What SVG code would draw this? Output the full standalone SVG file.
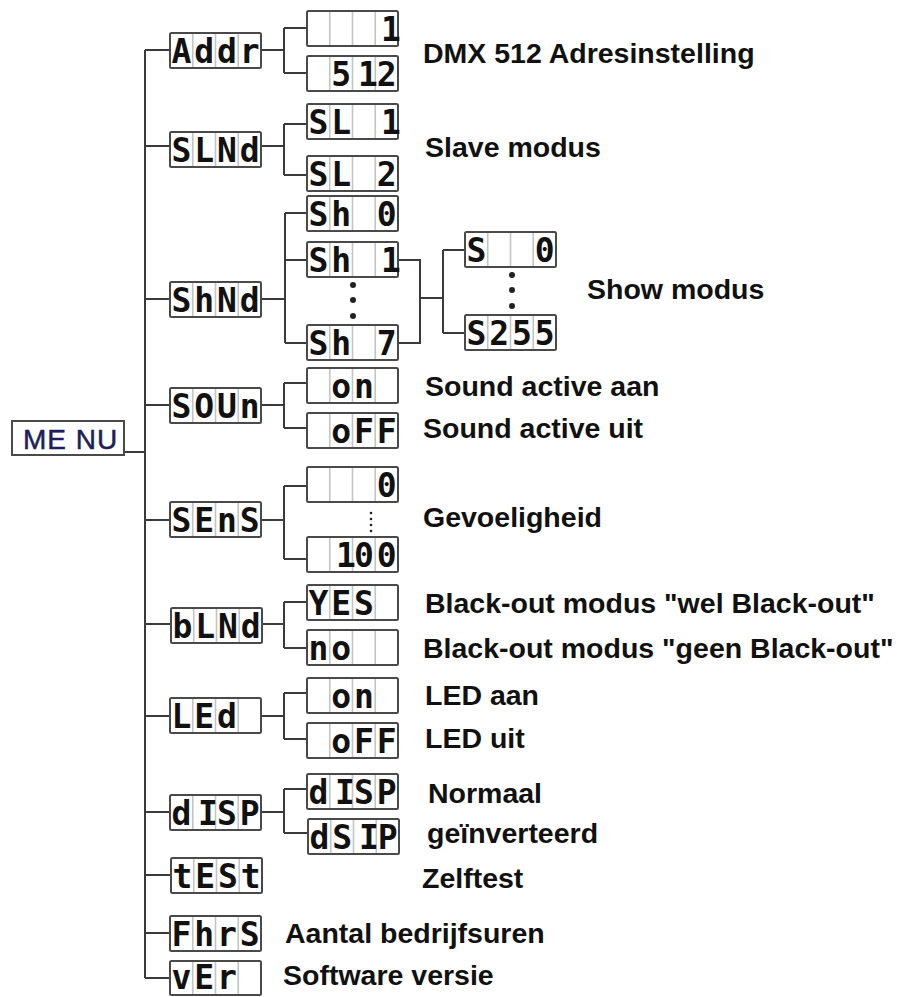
<svg xmlns="http://www.w3.org/2000/svg" xmlns:xlink="http://www.w3.org/1999/xlink" width="911" height="997" viewBox="0 0 911 997">
<style>
.box{fill:#fff;stroke:#4a4a4a;stroke-width:2}
.div{stroke:#c4c4c4;stroke-width:1.6;fill:none}
.seg{font-family:"DejaVu Sans Mono",monospace;font-weight:bold;font-size:33px;fill:#111;text-anchor:middle}
.lbl{font-family:"Liberation Sans",Arial,sans-serif;font-weight:bold;font-size:28.5px;fill:#111}
.con{fill:none;stroke:#3a3a3a;stroke-width:2}
.dot{fill:#222}
</style>
<defs>
<g id="cells">
<rect class="box" x="0" y="0" width="91" height="35" rx="1.5"/>
<path class="div" d="M22.75,1V34M45.5,1V34M68.25,1V34"/>
</g>
<g id="cells-s">
<rect class="box" x="0" y="0" width="91" height="34" rx="1.5"/>
<path class="div" d="M22.75,1V33M45.5,1V33M68.25,1V33"/>
</g>
</defs>
<rect width="911" height="997" fill="#fff"/>

<g id="connectors">
<path class="con" d="M124,452H145M145,50V978M145,50H170M145,146H170M145,299H170M145,405H170M145,520H170M145,624H171M145,716H170M145,812H170M145,875H171M145,933H170M145,978H170"/>
<path class="con" d="M261,50H284M284,28V73M284,28H307M284,73H307"/>
<path class="con" d="M261,146H284M284,124V175M284,124H307M284,175H307"/>
<path class="con" d="M261,299H285M285,213V343M285,213H307M285,260H307M285,343H307"/>
<path class="con" d="M398,260H420V343H398M420,298H443M443,250V333M443,250H465M443,333H465"/>
<path class="con" d="M261,405H284M284,383V428M284,383H307M284,428H307"/>
<path class="con" d="M261,520H284M284,486V559M284,486H307M284,559H307"/>
<path class="con" d="M262,624H284M284,602V648M284,602H307M284,648H307"/>
<path class="con" d="M261,716H284M284,693V739M284,693H307M284,739H307"/>
<path class="con" d="M261,812H284M284,789V833M284,789H307M284,833H308"/>
</g>

<g id="n-menu">
<rect x="12" y="421" width="112" height="34" fill="#fff" stroke="#4a4a4a" stroke-width="2"/>
<text x="23" y="449" font-family="Liberation Sans,Arial,sans-serif" font-size="28" letter-spacing="1" stroke="#1c1f5a" stroke-width="0.5" fill="#1c1f5a">ME NU</text>
</g>

<g id="n-addr" transform="translate(170,33)"><use href="#cells"/><text class="seg" x="11.4 34.1 56.9 79.6" y="30">Addr</text></g>
<g id="n-addr-1" transform="translate(307,11)"><use href="#cells"/><text class="seg" x="84" y="30">1</text></g>
<g id="n-addr-512" transform="translate(307,56)"><use href="#cells"/><text class="seg" x="34.1 61 79.6" y="30">512</text></g>
<text class="lbl" x="423" y="63">DMX 512 Adresinstelling</text>

<g id="n-slnd" transform="translate(170,132)"><use href="#cells"/><text class="seg" x="11.4 34.1 56.9 79.6" y="30">SLNd</text></g>
<g id="n-sl1" transform="translate(307,104)"><use href="#cells"/><text class="seg" x="11.4 34.1 84" y="30">SL1</text></g>
<g id="n-sl2" transform="translate(307,156)"><use href="#cells"/><text class="seg" x="11.4 34.1 79.6" y="30">SL2</text></g>
<text class="lbl" x="425" y="157">Slave modus</text>

<g id="n-shnd" transform="translate(170,282)"><use href="#cells"/><text class="seg" x="11.4 34.1 56.9 79.6" y="30">ShNd</text></g>
<g id="n-sh0" transform="translate(307,196)"><use href="#cells"/><text class="seg" x="11.4 34.1 79.6" y="30">Sh0</text></g>
<g id="n-sh1" transform="translate(307,242)"><use href="#cells"/><text class="seg" x="11.4 34.1 84" y="30">Sh1</text></g>
<g id="n-sh7" transform="translate(307,325)"><use href="#cells"/><text class="seg" x="11.4 34.1 79.6" y="30">Sh7</text></g>
<g id="n-s0" transform="translate(465,232)"><use href="#cells"/><text class="seg" x="11.4 79.6" y="30">S0</text></g>
<g id="n-s255" transform="translate(465,315)"><use href="#cells"/><text class="seg" x="11.4 34.1 56.9 79.6" y="30">S255</text></g>
<g id="dots-show">
<circle class="dot" cx="353" cy="285" r="3"/><circle class="dot" cx="353" cy="300" r="3"/><circle class="dot" cx="353" cy="316" r="3"/>
<circle class="dot" cx="512" cy="275" r="3"/><circle class="dot" cx="512" cy="290" r="3"/><circle class="dot" cx="512" cy="306" r="3"/>
</g>
<text class="lbl" x="587" y="299">Show modus</text>

<g id="n-soun" transform="translate(170,388)"><use href="#cells"/><text class="seg" x="11.4 34.1 56.9 79.6" y="30">SOUn</text></g>
<g id="n-soun-on" transform="translate(307,368)"><use href="#cells"/><text class="seg" x="34.1 56.9" y="30">on</text></g>
<g id="n-soun-off" transform="translate(307,413)"><use href="#cells"/><text class="seg" x="34.1 56.9 79.6" y="30">oFF</text></g>
<text class="lbl" x="425" y="396">Sound active aan</text>
<text class="lbl" x="423" y="438">Sound active uit</text>

<g id="n-sens" transform="translate(170,502)"><use href="#cells"/><text class="seg" x="11.4 34.1 56.9 79.6" y="30">SEnS</text></g>
<g id="n-sens-0" transform="translate(307,467)"><use href="#cells"/><text class="seg" x="79.6" y="30">0</text></g>
<g id="n-sens-100" transform="translate(307,537)"><use href="#cells"/><text class="seg" x="39 56.9 79.6" y="30">100</text></g>
<g id="dots-sens"><circle class="dot" cx="371" cy="513" r="1.3"/><circle class="dot" cx="371" cy="519" r="1.3"/><circle class="dot" cx="371" cy="525" r="1.3"/><circle class="dot" cx="371" cy="531" r="1.3"/></g>
<text class="lbl" x="423" y="527">Gevoeligheid</text>

<g id="n-blnd" transform="translate(171,608)"><use href="#cells"/><text class="seg" x="11.4 34.1 56.9 79.6" y="30">bLNd</text></g>
<g id="n-yes" transform="translate(307,585)"><use href="#cells"/><text class="seg" x="11.4 34.1 56.9" y="30">YES</text></g>
<g id="n-no" transform="translate(307,630)"><use href="#cells"/><text class="seg" x="11.4 34.1" y="30">no</text></g>
<text class="lbl" x="425" y="613">Black-out modus "wel Black-out"</text>
<text class="lbl" x="423" y="658">Black-out modus "geen Black-out"</text>

<g id="n-led" transform="translate(170,698)"><use href="#cells"/><text class="seg" x="11.4 34.1 56.9" y="30">LEd</text></g>
<g id="n-led-on" transform="translate(307,678)"><use href="#cells"/><text class="seg" x="34.1 56.9" y="30">on</text></g>
<g id="n-led-off" transform="translate(307,723)"><use href="#cells"/><text class="seg" x="34.1 56.9 79.6" y="30">oFF</text></g>
<text class="lbl" x="425" y="705">LED aan</text>
<text class="lbl" x="425" y="748">LED uit</text>

<g id="n-disp" transform="translate(170,795)"><use href="#cells"/><text class="seg" x="11.4 38 56.9 79.6" y="30">dISP</text></g>
<g id="n-disp-1" transform="translate(307,774)"><use href="#cells"/><text class="seg" x="11.4 38 56.9 79.6" y="30">dISP</text></g>
<g id="n-dsip" transform="translate(308,819)"><use href="#cells"/><text class="seg" x="11.4 34.1 61 79.6" y="30">dSIP</text></g>
<text class="lbl" x="428" y="803">Normaal</text>
<text class="lbl" x="427" y="843">geïnverteerd</text>

<g id="n-test" transform="translate(171,858)"><use href="#cells"/><text class="seg" x="11.4 34.1 56.9 79.6" y="30">tESt</text></g>
<text class="lbl" x="422" y="888">Zelftest</text>

<g id="n-fhrs" transform="translate(170,916)"><use href="#cells"/><text class="seg" x="11.4 34.1 56.9 79.6" y="30">FhrS</text></g>
<text class="lbl" x="285" y="943">Aantal bedrijfsuren</text>

<g id="n-ver" transform="translate(170,961)"><use href="#cells-s"/><text class="seg" x="11.4 34.1 56.9" y="28" font-size="31">vEr</text></g>
<text class="lbl" x="283" y="985">Software versie</text>
</svg>
